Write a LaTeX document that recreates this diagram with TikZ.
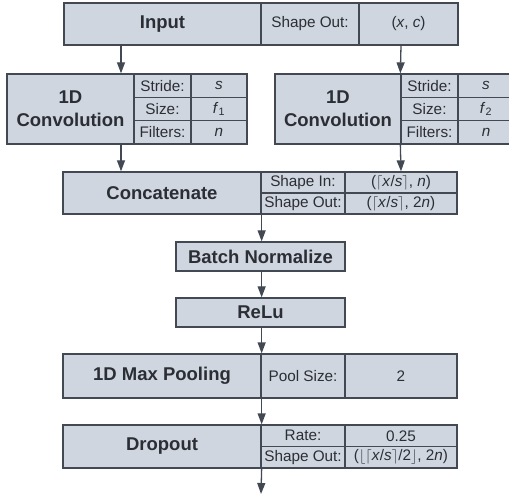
\documentclass[tikz,border=0pt]{standalone}
\usepackage{fontspec}
\setmainfont{Liberation Sans}
\usetikzlibrary{arrows.meta}
\definecolor{fc}{HTML}{D0D6DF}
\definecolor{lc}{HTML}{434952}
\definecolor{tc}{HTML}{2B2F35}
\newcommand{\ttl}{\fontsize{18.5}{23}\selectfont\bfseries}
\newcommand{\sml}{\fontsize{15.3}{17}\selectfont}
\newcommand{\lc}{\ensuremath{\lceil}}
\newcommand{\rc}{\ensuremath{\rceil}}
\newcommand{\lf}{\ensuremath{\lfloor}}
\newcommand{\rf}{\ensuremath{\rfloor}}
\begin{document}
\begin{tikzpicture}[x=1pt,y=-1pt,
  cell/.style={draw=lc,fill=fc,line width=1.3pt,inner sep=0pt,text=tc,align=center},
  tcell/.style={cell,font=\ttl},
  scell/.style={cell,font=\sml},
  arr/.style={draw=lc,line width=1.3pt,-{Triangle[length=11pt,width=8pt]}}]
\useasboundingbox (0,0) rectangle (509,497);
% Input
\node[tcell,minimum width=197pt,minimum height=42pt] (inT) at (162.5,24) {Input};
\node[scell,minimum width=98pt,minimum height=42pt] (inL) at (310,24) {Shape Out:};
\node[scell,minimum width=99pt,minimum height=42pt] (inV) at (408.5,24) {(\textit{x}, \textit{c})};
% Conv 1
\node[tcell,minimum width=127pt,minimum height=70pt] (c1T) at (70.5,109) {\raisebox{0pt}[0pt][0pt]{}1D\\Convolution};
\node[scell,minimum width=57pt,minimum height=23.33pt] (c1L1) at (162.5,85.67) {Stride:};
\node[scell,minimum width=57pt,minimum height=23.33pt] (c1L2) at (162.5,109) {Size:};
\node[scell,minimum width=57pt,minimum height=23.33pt] (c1L3) at (162.5,132.33) {Filters:};
\node[scell,minimum width=56pt,minimum height=23.33pt] (c1V1) at (219,85.67) {\textit{s}};
\node[scell,minimum width=56pt,minimum height=23.33pt] (c1V2) at (219,109) {\textit{f}\textsubscript{1}};
\node[scell,minimum width=56pt,minimum height=23.33pt] (c1V3) at (219,132.33) {\textit{n}};
% Conv 2
\node[tcell,minimum width=126pt,minimum height=70pt] (c2T) at (338,109) {1D\\Convolution};
\node[scell,minimum width=57pt,minimum height=23.33pt] (c2L1) at (429.5,85.67) {Stride:};
\node[scell,minimum width=57pt,minimum height=23.33pt] (c2L2) at (429.5,109) {Size:};
\node[scell,minimum width=57pt,minimum height=23.33pt] (c2L3) at (429.5,132.33) {Filters:};
\node[scell,minimum width=56pt,minimum height=23.33pt] (c2V1) at (486,85.67) {\textit{s}};
\node[scell,minimum width=56pt,minimum height=23.33pt] (c2V2) at (486,109) {\textit{f}\textsubscript{2}};
\node[scell,minimum width=56pt,minimum height=23.33pt] (c2V3) at (486,132.33) {\textit{n}};
% Concatenate
\node[tcell,minimum width=198pt,minimum height=42pt] (caT) at (162,193) {Concatenate};
\node[scell,minimum width=84pt,minimum height=21pt] (caL1) at (303,182.5) {Shape In:};
\node[scell,minimum width=84pt,minimum height=21pt] (caL2) at (303,203.5) {Shape Out:};
\node[scell,minimum width=112pt,minimum height=21pt] (caV1) at (401,182.5) {(\lc\textit{x}/\textit{s}\rc, \textit{n})};
\node[scell,minimum width=112pt,minimum height=21pt] (caV2) at (401,203.5) {(\lc\textit{x}/\textit{s}\rc, 2\textit{n})};
% Batch normalize, ReLu
\node[tcell,minimum width=169pt,minimum height=29pt] (bn) at (260.5,256.5) {Batch Normalize};
\node[tcell,minimum width=169pt,minimum height=29pt] (relu) at (260.5,312.5) {ReLu};
% Max pooling
\node[tcell,minimum width=198pt,minimum height=44pt] (mpT) at (162,376) {1D Max Pooling};
\node[scell,minimum width=84pt,minimum height=44pt] (mpL) at (303,376) {Pool Size:};
\node[scell,minimum width=112pt,minimum height=44pt] (mpV) at (401,376) {2};
% Dropout
\node[tcell,minimum width=198pt,minimum height=43pt] (doT) at (162,446.5) {Dropout};
\node[scell,minimum width=84pt,minimum height=21.5pt] (doL1) at (303,435.75) {Rate:};
\node[scell,minimum width=84pt,minimum height=21.5pt] (doL2) at (303,457.25) {Shape Out:};
\node[scell,minimum width=112pt,minimum height=21.5pt] (doV1) at (401,435.75) {0.25};
\node[scell,minimum width=112pt,minimum height=21.5pt] (doV2) at (401,457.25) {(\lf\lc\textit{x}/\textit{s}\rc/2\rf, 2\textit{n})};
% connectors
\coordinate (xa) at (121,0);
\coordinate (xb) at (401,0);
\coordinate (out) at (261,494);
\draw[arr] (inT.south -| xa) -- (c1T.north -| xa);
\draw[arr] (inV.south -| xb) -- (c2L1.north west);
\draw[arr] (c1T.south -| xa) -- (caT.north -| xa);
\draw[arr] (c2L3.south west) -- (caV1.north -| xb);
\draw[arr] (caT.south east) -- (bn.north -| caT.south east);
\draw[arr] (bn.south -| caT.south east) -- (relu.north -| caT.south east);
\draw[arr] (relu.south -| caT.south east) -- (mpT.north east);
\draw[arr] (mpT.south east) -- (doT.north east);
\draw[arr] (doT.south east) -- (out);
\end{tikzpicture}
\end{document}
